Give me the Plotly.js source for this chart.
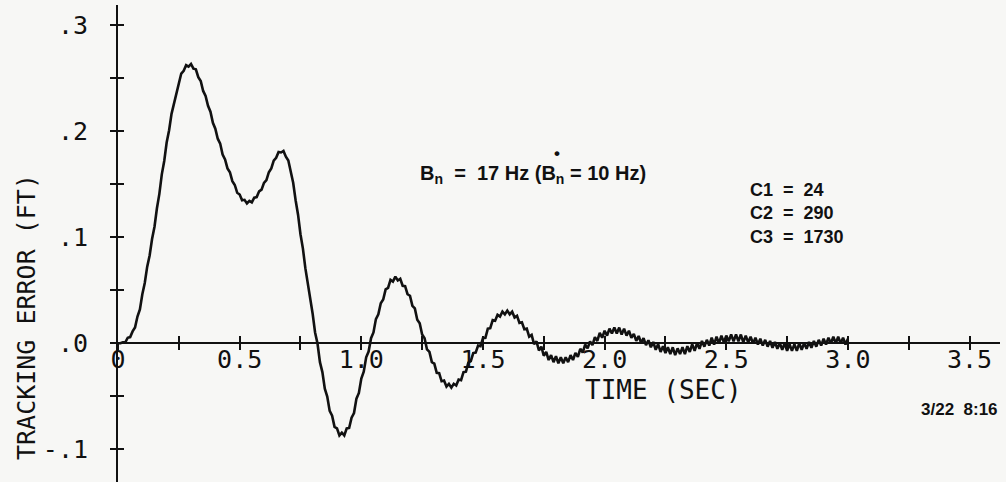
<!DOCTYPE html>
<html>
<head>
<meta charset="utf-8">
<script src="https://cdn.plot.ly/plotly-3.0.1.min.js"></script>
<style>
  html, body { margin: 0; padding: 0; background: #f7f7f5; }
  #plot { width: 1006px; height: 482px; }
</style>
</head>
<body>
<div id="plot"></div>
<script>
// Loop tracking error, sampled every 10 ms from t = 0 to 3.0 s
const timeStartSec = 0;
const timeStepSec = 0.01;
const trackingErrorFt = [
  0, 0, 0.001, 0.0008, 0.0052, 0.0058, 0.0112, 0.0148, 0.0252, 0.0318,
  0.0462, 0.0568, 0.0722, 0.0828, 0.0982, 0.1098, 0.1272, 0.1408, 0.1592, 0.1718,
  0.1892, 0.2008, 0.2162, 0.2258, 0.2382, 0.2448, 0.2542, 0.2568, 0.2622, 0.2608,
  0.2632, 0.2588, 0.2582, 0.2508, 0.2472, 0.2378, 0.2332, 0.2238, 0.2182, 0.2078,
  0.2022, 0.1928, 0.1882, 0.1778, 0.1732, 0.1648, 0.1612, 0.1528, 0.1492, 0.1418,
  0.1402, 0.1348, 0.1352, 0.1318, 0.1342, 0.1328, 0.1372, 0.1378, 0.1432, 0.1448,
  0.1512, 0.1538, 0.1612, 0.1648, 0.1722, 0.1748, 0.1802, 0.1798, 0.1812, 0.1758,
  0.1722, 0.1608, 0.1512, 0.1348, 0.1212, 0.1028, 0.0892, 0.0708, 0.0572, 0.0398,
  0.0278, 0.0102, -0.0002, -0.0178, -0.0272, -0.0428, -0.0502, -0.0638, -0.0682, -0.0788,
  -0.0802, -0.0868, -0.0842, -0.0868, -0.0802, -0.0798, -0.0702, -0.0658, -0.0522, -0.0468,
  -0.0332, -0.0268, -0.0132, -0.0078, 0.0048, 0.0102, 0.0228, 0.0272, 0.0378, 0.0412,
  0.0508, 0.0522, 0.0598, 0.0582, 0.0628, 0.0592, 0.0608, 0.0542, 0.0538, 0.0462,
  0.0448, 0.0352, 0.0328, 0.0222, 0.0188, 0.0082, 0.0048, -0.0058, -0.0082, -0.0178,
  -0.0192, -0.0278, -0.0282, -0.0358, -0.0352, -0.0408, -0.0382, -0.0418, -0.0382, -0.0398,
  -0.0342, -0.0348, -0.0272, -0.0268, -0.0182, -0.0168, -0.0092, -0.0088, -0.0022, -0.0028,
  0.0048, 0.0052, 0.0138, 0.0142, 0.0218, 0.0212, 0.0268, 0.0252, 0.0298, 0.0272,
  0.0308, 0.0272, 0.0298, 0.0242, 0.0258, 0.0192, 0.0198, 0.0132, 0.0138, 0.0062,
  0.0078, -0.0008, 0.0018, -0.0068, -0.0032, -0.0118, -0.0082, -0.0158, -0.0112, -0.0178,
  -0.0122, -0.0188, -0.0132, -0.0188, -0.0132, -0.0178, -0.0112, -0.0158, -0.0092, -0.0128,
  -0.0052, -0.0088, -0.0012, -0.0048, 0.0018, -0.0018, 0.0058, 0.0022, 0.0098, 0.0052,
  0.0118, 0.0072, 0.0138, 0.0092, 0.0148, 0.0092, 0.0148, 0.0082, 0.0138, 0.0072,
  0.0118, 0.0052, 0.0088, 0.0022, 0.0068, 0.0002, 0.0048, -0.0018, 0.0028, -0.0038,
  0.0012, -0.0062, -0.0008, -0.0082, -0.0028, -0.0092, -0.0038, -0.0102, -0.0038, -0.0112,
  -0.0048, -0.0102, -0.0038, -0.0102, -0.0028, -0.0082, -0.0008, -0.0072, 0.0002, -0.0052,
  0.0022, -0.0032, 0.0032, -0.0022, 0.0052, -0.0012, 0.0062, -0.0002, 0.0072, 0.0008,
  0.0072, 0.0018, 0.0082, 0.0018, 0.0082, 0.0018, 0.0082, 0.0008, 0.0072, 0.0008,
  0.0062, -0.0002, 0.0052, -0.0012, 0.0042, -0.0022, 0.0032, -0.0032, 0.0022, -0.0042,
  0.0012, -0.0052, 0.0002, -0.0062, 0.0002, -0.0072, -0.0008, -0.0072, -0.0008, -0.0072,
  0.0002, -0.0062, 0.0002, -0.0052, 0.0012, -0.0042, 0.0022, -0.0032, 0.0032, -0.0022,
  0.0042, -0.0012, 0.0052, -0.0002, 0.0062, -0.0002, 0.0062, -0.0002, 0.0052, -0.0012,
  0.0042
];

// Axis ticks and their printed labels
const timeTickVals = [0, 0.5, 1.0, 1.5, 2.0, 2.5, 3.0, 3.5];
const timeTickText = ['0', '0.5', '1.0', '1.5', '2.0', '2.5', '3.0', '3.5'];
const errorTickVals = [-0.1, 0, 0.1, 0.2, 0.3];
const errorTickText = ['-.1', '.0', '.1', '.2', '.3'];

// Loop settings printed on the plot
const bandwidthLabel = 'B<sub>n</sub>\u00a0\u00a0=\u00a0\u00a017 Hz (B<sub>n</sub>\u00a0= 10 Hz)';
const starMark = '\u2022';
const coefficientLines = ['C1\u00a0\u00a0=\u00a0\u00a024', 'C2\u00a0\u00a0=\u00a0\u00a0290', 'C3\u00a0\u00a0=\u00a0\u00a01730'];
const runStamp = '3/22\u00a0\u00a08:16';

const ink = '#111111';
const plotterFont = 'DejaVu Sans Mono, monospace';
const typeFont = 'Liberation Sans, Arial, sans-serif';

const xRange = [0, 3.625];
const yRange = [-0.13076, 0.31881];
// the time axis is drawn where the error is zero
const zeroPos = (0 - yRange[0]) / (yRange[1] - yRange[0]);

const traces = [
  {
    type: 'scatter', mode: 'lines',
    x0: timeStartSec, dx: timeStepSec, y: trackingErrorFt,
    line: { color: ink, width: 2.6, shape: 'linear' },
    hoverinfo: 'skip', showlegend: false
  },
  {
    // carrier for the second pair of axes (tick marks on the opposite side)
    type: 'scatter', mode: 'lines', x: [], y: [],
    xaxis: 'x2', yaxis: 'y2', hoverinfo: 'skip', showlegend: false
  }
];

const tickCommon = { ticklen: 6, tickwidth: 2, tickcolor: ink };
const minorIn = (d) => ({ dtick: d, tick0: 0, ticks: 'inside', ticklen: 6, tickwidth: 2, tickcolor: ink });
const minorOut = (d) => ({ dtick: d, tick0: 0, ticks: 'outside', ticklen: 6, tickwidth: 2, tickcolor: ink });

const layout = {
  width: 1006, height: 482,
  margin: { l: 118, r: 6, t: 5, b: 0, pad: 0 },
  paper_bgcolor: '#f7f7f5',
  plot_bgcolor: 'rgba(0,0,0,0)',
  showlegend: false,
  // labelled time axis: ticks above the line, labels right under it
  xaxis: Object.assign({
    range: xRange, domain: [0, 1],
    anchor: 'free', position: zeroPos,
    showline: true, linecolor: ink, linewidth: 2,
    showgrid: false, zeroline: false,
    tickmode: 'array', tickvals: timeTickVals, ticktext: timeTickText,
    ticks: 'inside', minor: minorIn(0.25),
    ticklabelstandoff: -6,
    tickfont: { family: plotterFont, size: 25, color: ink }
  }, tickCommon),
  // second time axis only adds the tick halves below the line
  xaxis2: Object.assign({
    range: xRange, domain: [0, 1], overlaying: 'x',
    anchor: 'free', position: zeroPos,
    showline: false, showgrid: false, zeroline: false,
    tickmode: 'array', tickvals: timeTickVals,
    ticks: 'outside', showticklabels: false, minor: minorOut(0.25)
  }, tickCommon),
  yaxis: Object.assign({
    range: yRange, domain: [0, 1], anchor: 'x',
    showline: true, linecolor: ink, linewidth: 2,
    showgrid: false, zeroline: false,
    tickmode: 'array', tickvals: errorTickVals, ticktext: errorTickText,
    ticks: 'outside', minor: minorOut(0.05),
    ticklabelstandoff: 17,
    tickfont: { family: plotterFont, size: 25, color: ink }
  }, tickCommon),
  yaxis2: Object.assign({
    range: yRange, domain: [0, 1], overlaying: 'y', anchor: 'x2', side: 'left',
    showline: false, showgrid: false, zeroline: false,
    tickmode: 'array', tickvals: errorTickVals,
    ticks: 'inside', showticklabels: false, minor: minorIn(0.05)
  }, tickCommon),
  annotations: [
    {
      text: 'TRACKING ERROR (FT)', textangle: -90,
      xref: 'paper', yref: 'paper', x: -0.1043, y: 0.3459,
      xanchor: 'center', yanchor: 'middle', showarrow: false,
      font: { family: plotterFont, size: 25, color: ink }
    },
    {
      text: 'TIME (SEC)',
      xref: 'paper', yref: 'paper', x: 0.619, y: 0.193,
      xanchor: 'center', yanchor: 'middle', showarrow: false,
      font: { family: plotterFont, size: 26, color: ink }
    },
    {
      text: bandwidthLabel,
      xref: 'paper', yref: 'paper', x: 0.3401, y: 0.644,
      xanchor: 'left', yanchor: 'middle', showarrow: false,
      font: { family: typeFont, size: 20, color: ink, weight: 'bold' }
    },
    {
      text: starMark,
      xref: 'paper', yref: 'paper', x: 0.4978, y: 0.688,
      xanchor: 'center', yanchor: 'middle', showarrow: false,
      font: { family: typeFont, size: 17, color: ink, weight: 'bold' }
    },
    {
      text: coefficientLines.join('<br>'), align: 'left',
      xref: 'paper', yref: 'paper', x: 0.7143, y: 0.5639,
      xanchor: 'left', yanchor: 'middle', showarrow: false,
      font: { family: typeFont, size: 18, color: ink, weight: 'bold' }
    },
    {
      text: runStamp,
      xref: 'paper', yref: 'paper', x: 1.0, y: 0.151,
      xanchor: 'right', yanchor: 'middle', showarrow: false,
      font: { family: typeFont, size: 17, color: ink, weight: 'bold' }
    }
  ]
};

Plotly.newPlot('plot', traces, layout, { staticPlot: true, displayModeBar: false });
</script>
</body>
</html>
